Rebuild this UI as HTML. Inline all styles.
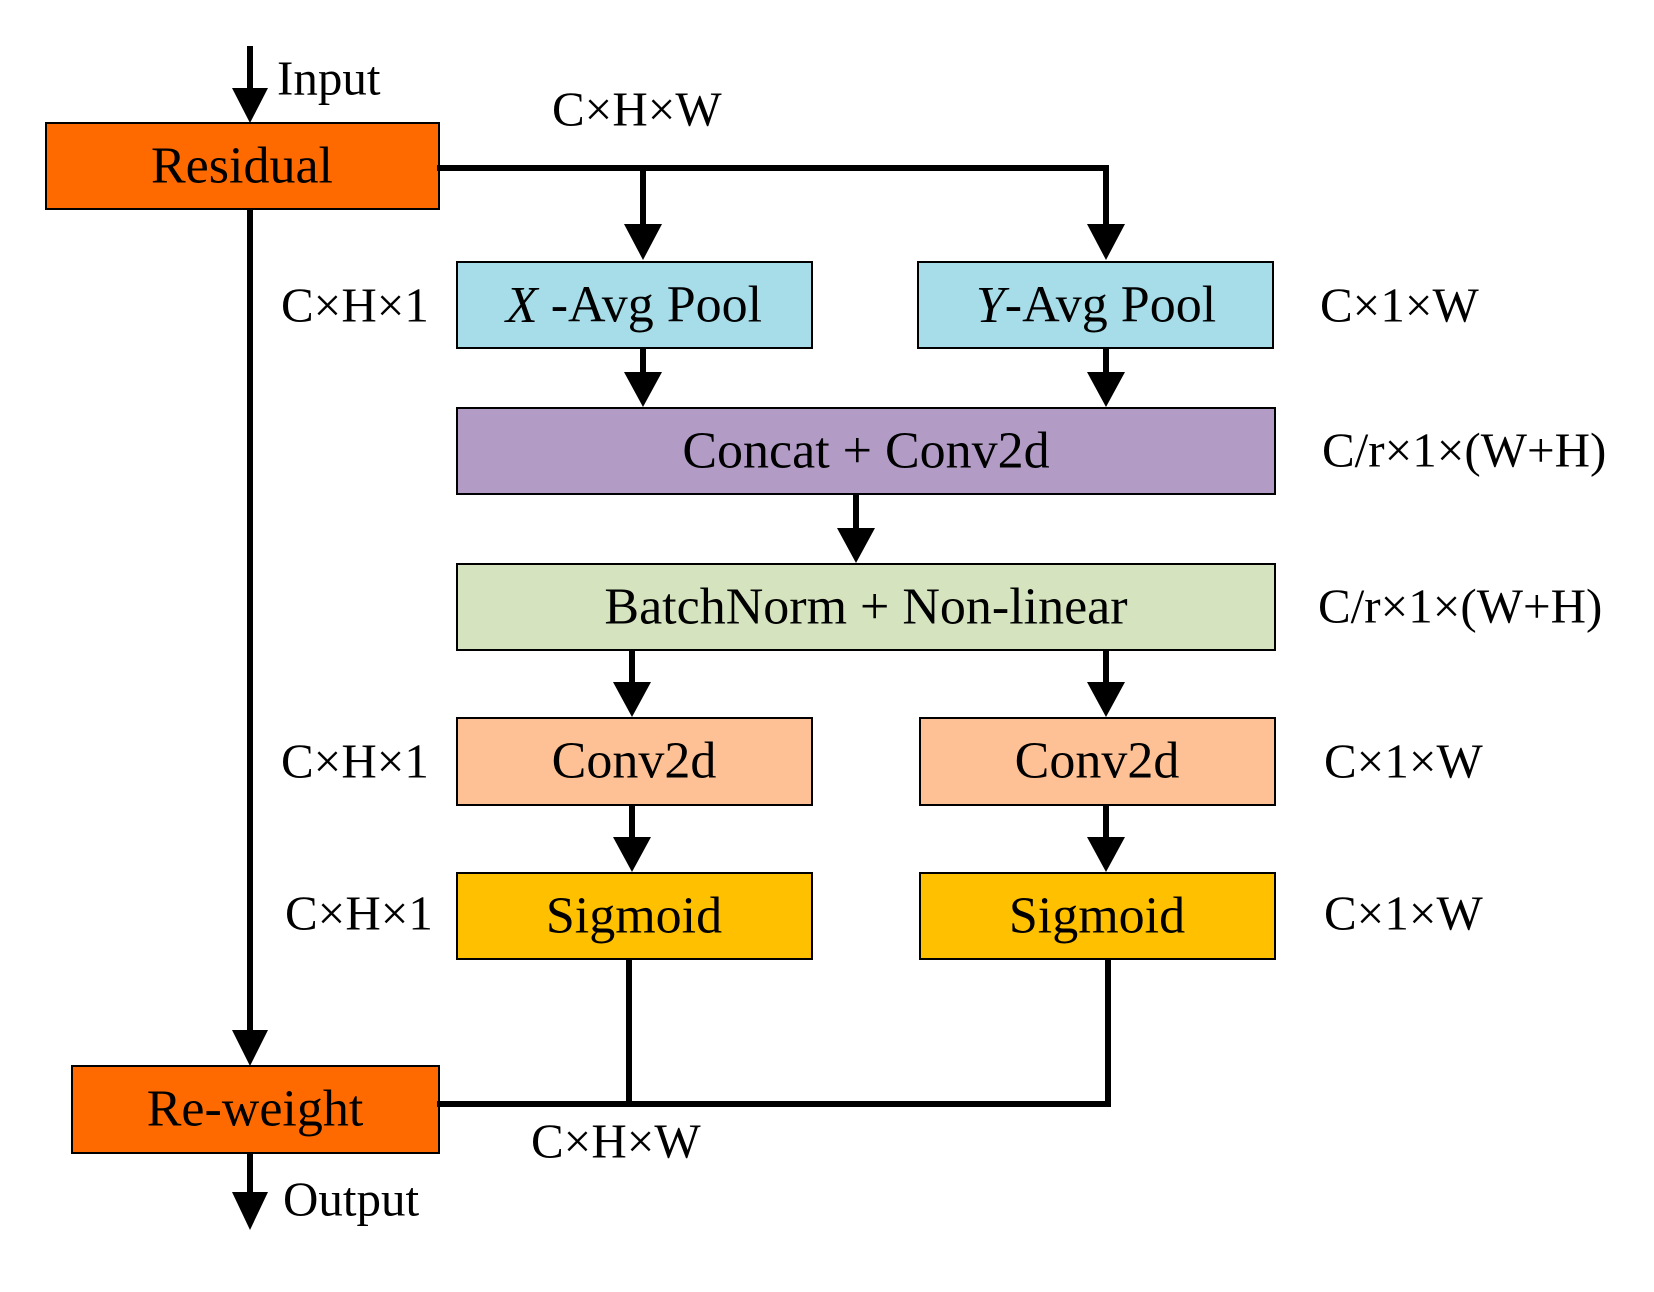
<!DOCTYPE html>
<html><head><style>
html,body{margin:0;padding:0;background:#fff;}
svg{display:block;}
text{font-family:"Liberation Serif",serif;fill:#000;}
</style></head><body>
<svg width="1654" height="1292" viewBox="0 0 1654 1292" xmlns="http://www.w3.org/2000/svg">
<g stroke="#000" stroke-width="2">
<rect x="46" y="123" width="393" height="86" fill="#ff6a00"/>
<rect x="72" y="1066" width="367" height="87" fill="#ff6a00"/>
<rect x="457" y="262" width="355" height="86" fill="#a6dde9"/>
<rect x="918" y="262" width="355" height="86" fill="#a6dde9"/>
<rect x="457" y="408" width="818" height="86" fill="#b29cc6"/>
<rect x="457" y="564" width="818" height="86" fill="#d5e3bf"/>
<rect x="457" y="718" width="355" height="87" fill="#fdc195"/>
<rect x="920" y="718" width="355" height="87" fill="#fdc195"/>
<rect x="457" y="873" width="355" height="86" fill="#ffc000"/>
<rect x="920" y="873" width="355" height="86" fill="#ffc000"/>
</g>
<g stroke="#000" stroke-width="6" fill="none">
<line x1="250" y1="46" x2="250" y2="100"/>
<line x1="250" y1="209" x2="250" y2="1040"/>
<line x1="250" y1="1153" x2="250" y2="1205"/>
<polyline points="437,168 1106,168 1106,235"/>
<line x1="643" y1="168" x2="643" y2="235"/>
<line x1="643" y1="348" x2="643" y2="382"/>
<line x1="1106" y1="348" x2="1106" y2="382"/>
<line x1="856" y1="494" x2="856" y2="538"/>
<line x1="632" y1="650" x2="632" y2="692"/>
<line x1="1106" y1="650" x2="1106" y2="692"/>
<line x1="632" y1="805" x2="632" y2="847"/>
<line x1="1106" y1="805" x2="1106" y2="847"/>
<polyline points="629,959 629,1104"/>
<polyline points="437,1104 1108,1104 1108,959"/>
</g>
<g fill="#000">
<polygon points="232,88 268,88 250,123"/>
<polygon points="232,1030 268,1030 250,1066"/>
<polygon points="232,1192 268,1192 250,1230"/>
<polygon points="624,224 662,224 643,260"/>
<polygon points="1087,224 1125,224 1106,260"/>
<polygon points="624,372 662,372 643,407"/>
<polygon points="1087,372 1125,372 1106,407"/>
<polygon points="837,528 875,528 856,563"/>
<polygon points="613,682 651,682 632,717"/>
<polygon points="1087,682 1125,682 1106,717"/>
<polygon points="613,837 651,837 632,872"/>
<polygon points="1087,837 1125,837 1106,872"/>
</g>
<g font-size="52" text-anchor="middle" dominant-baseline="central">
<text x="242" y="166">Residual</text>
<text x="255" y="1109">Re-weight</text>
<text x="634" y="305"><tspan font-style="italic">X</tspan> -Avg Pool</text>
<text x="1096" y="305"><tspan font-style="italic">Y</tspan>-Avg Pool</text>
<text x="866" y="451">Concat + Conv2d</text>
<text x="866" y="607">BatchNorm + Non-linear</text>
<text x="634" y="761">Conv2d</text>
<text x="1097" y="761">Conv2d</text>
<text x="634" y="916">Sigmoid</text>
<text x="1097" y="916">Sigmoid</text>
</g>
<g font-size="49" dominant-baseline="central">
<text x="277" y="78">Input</text>
<text x="552" y="109">C×H×W</text>
<text x="281" y="305">C×H×1</text>
<text x="1320" y="305">C×1×W</text>
<text x="1322" y="450">C/r×1×(W+H)</text>
<text x="1318" y="606">C/r×1×(W+H)</text>
<text x="281" y="761">C×H×1</text>
<text x="1324" y="761">C×1×W</text>
<text x="285" y="913">C×H×1</text>
<text x="1324" y="913">C×1×W</text>
<text x="531" y="1141">C×H×W</text>
<text x="283" y="1199">Output</text>
</g>
</svg>
</body></html>
